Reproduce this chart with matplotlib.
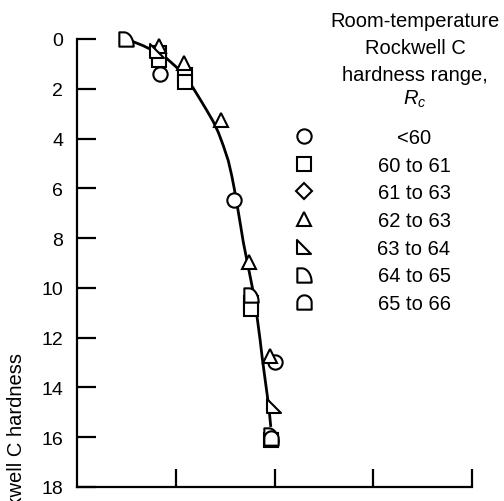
import matplotlib
matplotlib.use('Agg')
import matplotlib.pyplot as plt
import numpy as np
from matplotlib.path import Path
from matplotlib.lines import Line2D

plt.rcParams['font.family'] = ['Liberation Sans', 'DejaVu Sans']
plt.rcParams['mathtext.fontset'] = 'custom'
plt.rcParams['mathtext.it'] = 'Liberation Sans:italic'
plt.rcParams['mathtext.rm'] = 'Liberation Sans'

# ---------------- data ----------------
curve_x = [0.570, 0.671, 0.773, 0.908, 1.026, 1.111, 1.178, 1.246, 1.313, 1.380,
           1.431, 1.482, 1.532, 1.567, 1.593, 1.617, 1.651, 1.684, 1.718, 1.752,
           1.785, 1.826, 1.853, 1.877, 1.904, 1.927, 1.948, 1.961]
curve_y = [0.11, 0.27, 0.47, 0.78, 1.20, 1.58, 1.98, 2.42, 2.86, 3.32,
           3.75, 4.29, 4.89, 5.49, 6.02, 6.56, 7.36, 8.16, 8.84, 9.51,
           10.17, 11.24, 12.05, 12.85, 13.65, 14.33, 14.99, 15.53]

categories = ['<60', '60 to 61', '61 to 63', '62 to 63', '63 to 64', '64 to 65', '65 to 66']

lt60_x = [0.84, 1.59, 2.00]
lt60_y = [1.41, 6.47, 12.98]
r6061_x = [0.83, 0.83, 1.09, 1.09, 1.76, 1.76, 1.96]
r6061_y = [0.55, 0.85, 1.45, 1.72, 10.60, 10.85, 16.10]
r6163_x = []
r6163_y = []
r6263_x = [0.83, 1.08, 1.455, 1.74, 1.95]
r6263_y = [0.30, 0.98, 3.24, 8.97, 12.75]
r6364_x = [0.81, 1.99]
r6364_y = [0.50, 14.75]
r6465_x = [0.50, 1.76, 1.96]
r6465_y = [0.00, 10.28, 15.90]
r6566_x = [1.96]
r6566_y = [16.02]

ytick_vals = [0, 2, 4, 6, 8, 10, 12, 14, 16, 18]
xtick_vals = [1, 2, 3, 4]

# ---------------- custom markers ----------------
def right_tri():
    v = [(-1, 1), (-1, -1), (1, -1), (-1, 1)]
    return Path(v, [Path.MOVETO, Path.LINETO, Path.LINETO, Path.CLOSEPOLY])

def quarter_d():
    t = np.linspace(np.pi / 2, 0, 20)
    cx, cy, rx, ry = -0.35, -1.0, 1.35, 2.0
    arc = [(cx + rx * np.cos(a), cy + ry * np.sin(a)) for a in t]
    v = [(-1, -1), (-1, 1)] + arc + [(-1, -1)]
    codes = [Path.MOVETO] + [Path.LINETO] * (len(v) - 2) + [Path.CLOSEPOLY]
    return Path(v, codes)

def arch():
    t = np.linspace(0, np.pi, 24)
    arc = [(np.cos(a), np.sin(a)) for a in t]
    v = [(-1, -1), (1, -1)] + arc + [(-1, -1)]
    codes = [Path.MOVETO] + [Path.LINETO] * (len(v) - 2) + [Path.CLOSEPOLY]
    return Path(v, codes)

markers = ['o', 's', 'D', '^', right_tri(), quarter_d(), arch()]
msizes = [10.3, 9.8, 8.6, 10.3, 10.3, 10.3, 10.3]
series = [(lt60_x, lt60_y), (r6061_x, r6061_y), (r6163_x, r6163_y), (r6263_x, r6263_y),
          (r6364_x, r6364_y), (r6465_x, r6465_y), (r6566_x, r6566_y)]

# ---------------- figure ----------------
W, H = 504, 502
fig = plt.figure(figsize=(W / 100, H / 100), dpi=100)
ax = fig.add_axes([77 / W, 14 / H, (472 - 77) / W, (488 - 40) / H])

ax.plot(curve_x, curve_y, color='black', lw=2.0, zorder=2, clip_on=False,
        solid_joinstyle='round')

for (xs, ys), mk, ms in zip(series, markers, msizes):
    ax.plot(xs, ys, linestyle='none', marker=mk, ms=ms, mfc='white', mec='black',
            mew=1.5, zorder=3, clip_on=False)

ax.set_xlim(0, 4)
ax.set_ylim(18, 0)
ax.set_yticks(ytick_vals)
ax.set_xticks(xtick_vals)
ax.tick_params(axis='y', direction='in', length=13.7, width=1.6, pad=10, labelsize=14)
ax.tick_params(axis='x', direction='in', length=13, width=1.6, labelbottom=False)
for s in ['top', 'right']:
    ax.spines[s].set_visible(False)
for s in ['left', 'bottom']:
    ax.spines[s].set_linewidth(1.6)

fig.text(17 / W, 1 - 353 / H, 'Loss in Rockwell C hardness', rotation=90,
         ha='center', va='top', fontsize=14.5)

# legend title
title_lines = ['Room-temperature', 'Rockwell C', 'hardness range,', '$R_c$']
title_base = [27, 54, 81, 105]
for txt, yb in zip(title_lines, title_base):
    fig.text(415 / W, 1 - yb / H, txt, ha='center', va='baseline', fontsize=14.5)

# legend entries
for i, (lab, mk, ms) in enumerate(zip(categories, markers, msizes)):
    yc = 137 + 27.7 * i
    fig.add_artist(Line2D([304 / W], [1 - yc / H], transform=fig.transFigure,
                          linestyle='none', marker=mk, ms=ms, mfc='white',
                          mec='black', mew=1.5))
    fig.text(414 / W, 1 - (yc + 7) / H, lab, ha='center', va='baseline', fontsize=14.5)

fig.savefig('out.png', dpi=100)
